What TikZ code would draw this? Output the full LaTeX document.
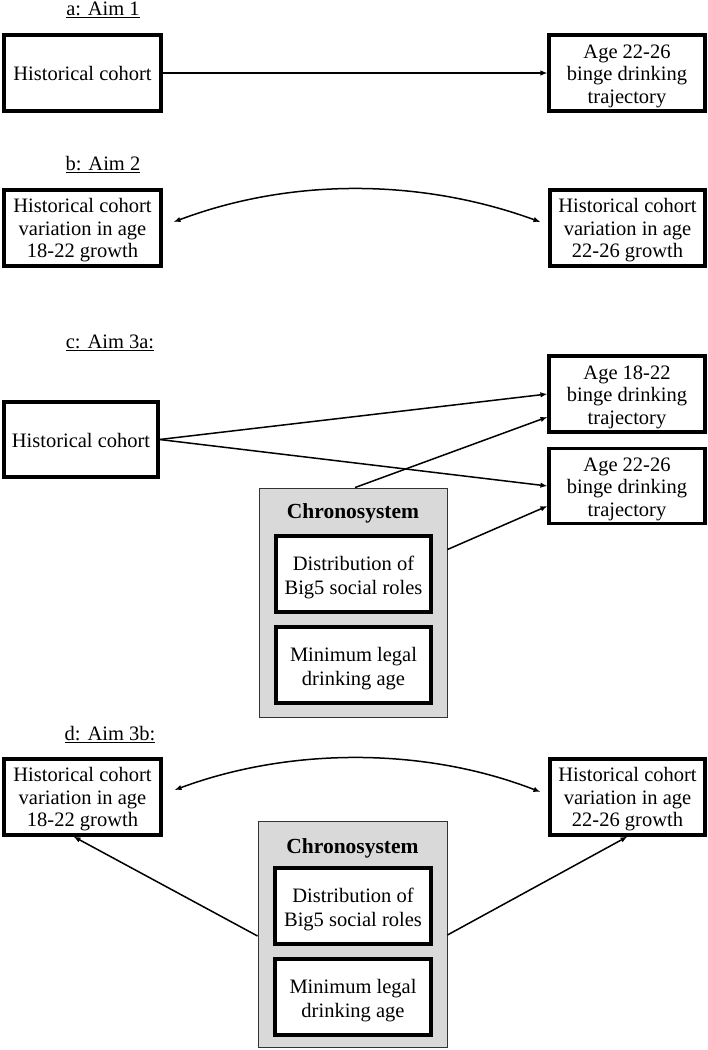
\documentclass[tikz,border=0pt]{standalone}
\usepackage{fontspec}
\setmainfont{Liberation Serif}
\usetikzlibrary{arrows.meta}
\newcommand{\firstup}[1]{\rule{0pt}{#1}}
\begin{document}
\begin{tikzpicture}[x=1pt,y=-1pt,
  box/.style={draw=black, line width=3.1pt, fill=white, align=center, inner sep=0pt,
    font=\fontsize{20.5}{22.5}\selectfont},
  ibox/.style={box, font=\fontsize{20.5}{24.5}\selectfont},
  chrono/.style={draw=black!80, line width=0.9pt, fill=black!15, inner sep=0pt},
  title/.style={font=\fontsize{20.5}{23}\selectfont, inner sep=0pt},
  ctitle/.style={font=\fontsize{21.5}{24}\selectfont\bfseries, inner sep=0pt},
  conn/.style={line width=1.5pt, -{Latex[length=7pt,width=5.5pt]}},
  dconn/.style={line width=1.5pt, {Latex[length=7pt,width=5.5pt]}-{Latex[length=7pt,width=5.5pt]}}
]
\useasboundingbox (0,0) rectangle (708,1050);

% a
\node[title] (ta) at (103,10) {\underline{a: Aim 1}};
\node[box, minimum width=157, minimum height=76] (a1) at (82.5,73) {Historical cohort};
\node[box, minimum width=156, minimum height=76] (a2) at (627,73) {\firstup{20pt}Age 22-26\\binge drinking\\trajectory};
\draw[conn] (a1.east) -- (a2.west);

% b
\node[title] (tb) at (103,165) {\underline{b: Aim 2}};
\node[box, minimum width=157, minimum height=76] (b1) at (82.5,228) {\firstup{19pt}Historical cohort\\variation in age\\18-22 growth};
\node[box, minimum width=155, minimum height=76] (b2) at (627.5,228) {\firstup{19pt}Historical cohort\\variation in age\\22-26 growth};
\draw[dconn] ([xshift=11pt,yshift=6pt]b1.east) .. controls (290,178) and (420,178) .. ([xshift=-8pt,yshift=6pt]b2.west);

% c
\node[title] (tc) at (110,343) {\underline{c: Aim 3a:}};
\node[box, minimum width=154, minimum height=75] (c1) at (81,439.5) {\firstup{17pt}Historical cohort};
\node[box, minimum width=156, minimum height=76] (c2) at (627,394) {\firstup{20pt}Age 18-22\\binge drinking\\trajectory};
\node[box, minimum width=156, minimum height=75] (c3) at (627,486) {\firstup{20pt}Age 22-26\\binge drinking\\trajectory};
\node[chrono, minimum width=188, minimum height=229] (cchr) at (353,602.5) {};
\node[ctitle] (cct) at (353,513) {Chronosystem};
\node[ibox, minimum width=155, minimum height=76] (ci1) at (353.5,574) {\firstup{21pt}Distribution of\\Big5 social roles};
\node[ibox, minimum width=155, minimum height=76] (ci2) at (353.5,665) {\firstup{21pt}Minimum legal\\drinking age};
\draw[conn] (c1.east) -- (c2.west);
\draw[conn] (c1.east) -- (c3.west);
\draw[conn] ([xshift=2pt]cchr.north) -- ([yshift=-23pt]c2.west);
\draw[conn] ([yshift=53pt]cchr.east) -- ([yshift=-20pt]c3.west);

% d
\node[title] (td) at (110,735) {\underline{d: Aim 3b:}};
\node[box, minimum width=157, minimum height=76] (d1) at (82.5,797) {\firstup{19pt}Historical cohort\\variation in age\\18-22 growth};
\node[box, minimum width=155, minimum height=76] (d2) at (627.5,797) {\firstup{19pt}Historical cohort\\variation in age\\22-26 growth};
\draw[dconn] ([xshift=12pt,yshift=7pt]d1.east) .. controls (290,747) and (425,747) .. ([xshift=-8pt,yshift=5pt]d2.west);
\node[chrono, minimum width=189, minimum height=226] (dchr) at (352.5,934) {};
\node[ctitle] (dct) at (352.5,848) {Chronosystem};
\node[ibox, minimum width=156, minimum height=76] (di1) at (353,906) {\firstup{21pt}Distribution of\\Big5 social roles};
\node[ibox, minimum width=156, minimum height=76] (di2) at (353,997) {\firstup{21pt}Minimum legal\\drinking age};
\draw[conn] ([yshift=-2pt]dchr.west) -- ([xshift=-9pt]d1.south);
\draw[conn] ([yshift=-1pt]dchr.east) -- (d2.south);
\end{tikzpicture}
\end{document}
